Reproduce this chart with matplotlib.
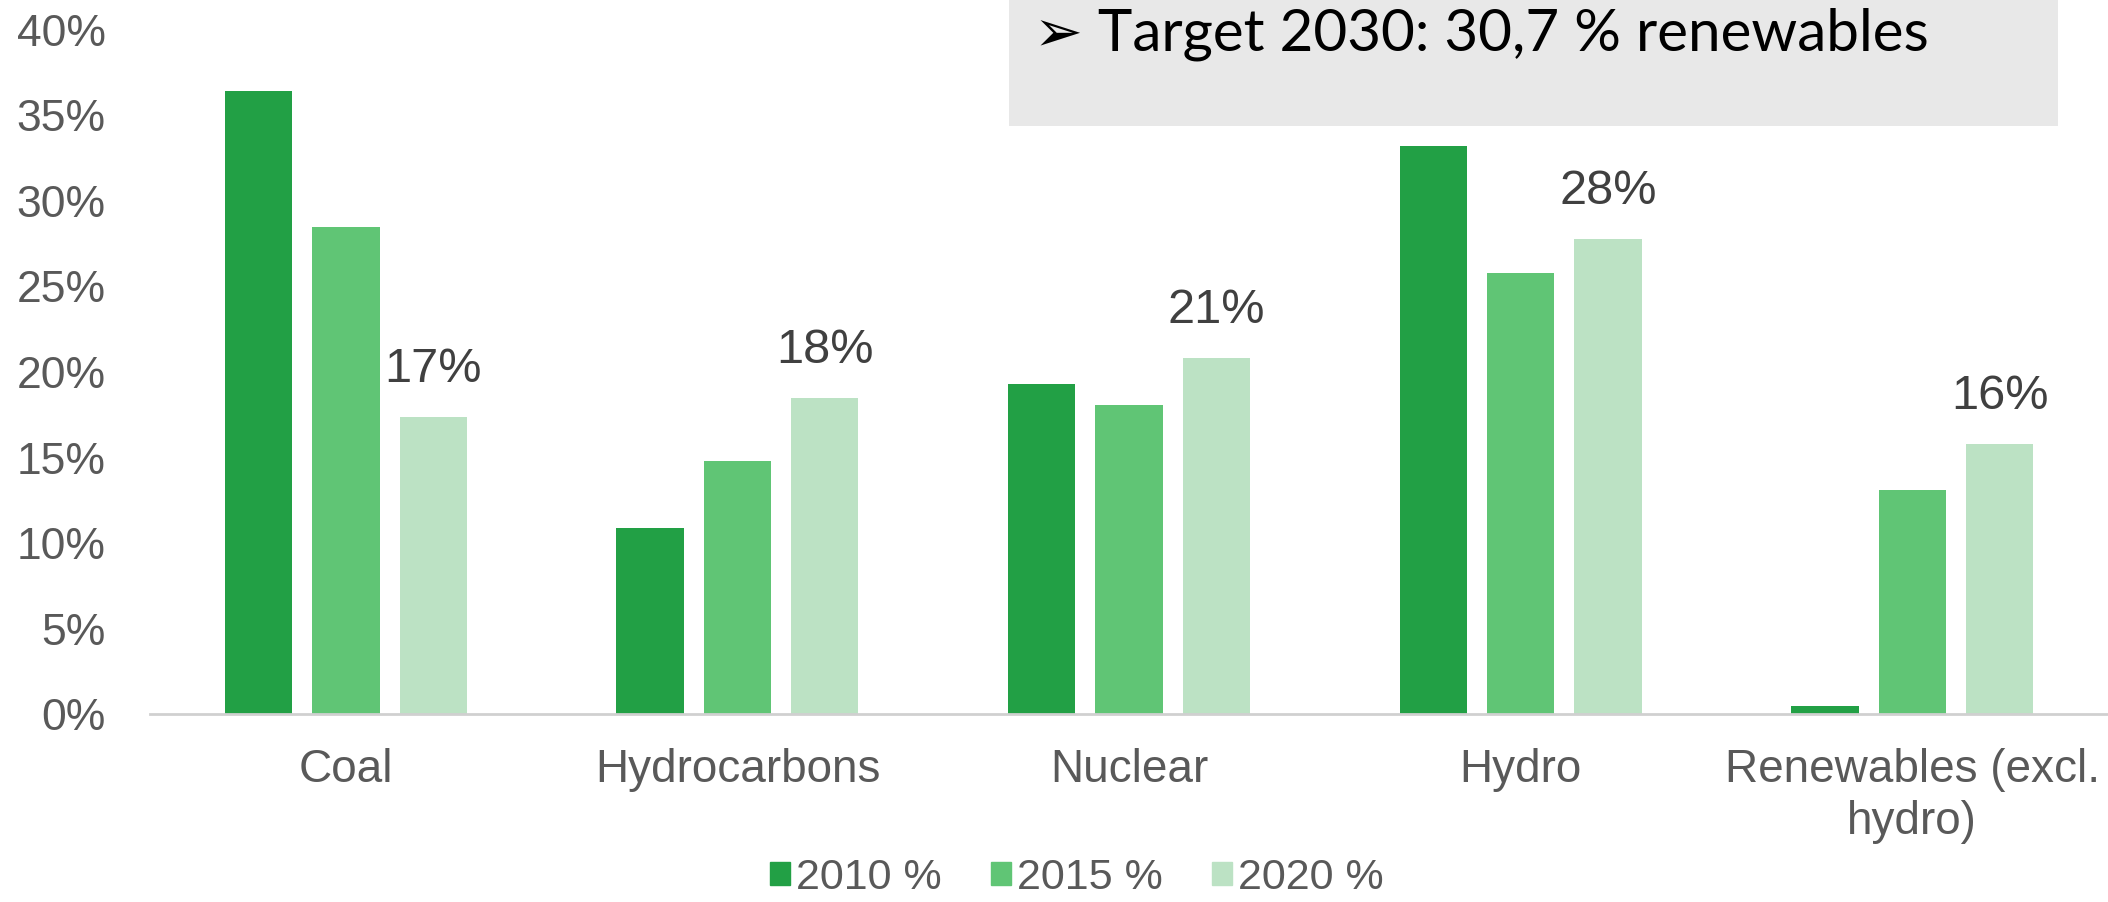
import numpy as np
import matplotlib.pyplot as plt
from matplotlib.patches import Patch, Rectangle

categories = ["Coal", "Hydrocarbons", "Nuclear", "Hydro", "Renewables (excl.\nhydro)"]
years = ["2010 %", "2015 %", "2020 %"]
share_2010 = [0.364, 0.109, 0.193, 0.332, 0.005]
share_2015 = [0.285, 0.148, 0.181, 0.258, 0.131]
share_2020 = [0.174, 0.185, 0.208, 0.278, 0.158]
labels_2020 = ["17%", "18%", "21%", "28%", "16%"]
yticks = [0, 0.05, 0.10, 0.15, 0.20, 0.25, 0.30, 0.35, 0.40]

colors = ["#22a045", "#60c575", "#bce2c4"]
tick_color = "#595959"

plt.rcParams['font.family'] = ['Liberation Sans', 'DejaVu Sans']

fig = plt.figure(figsize=(21.08, 9.02), dpi=100)
ax = fig.add_axes([0.0712, 0.208, 0.9288, 0.759])

x = np.arange(len(categories))
width = 0.172
step = 0.223
series = [share_2010, share_2015, share_2020]
for i, vals in enumerate(series):
    ax.bar(x + (i - 1) * step, vals, width, color=colors[i], zorder=2)

# data labels on the 2020 bars
for xi, v, lab in zip(x, share_2020, labels_2020):
    ax.annotate(lab, (xi + step, v), xytext=(0, 18), textcoords='offset points',
                ha='center', va='bottom', fontsize=35, color='#404040')

ax.set_xlim(-0.5, 4.5)
ax.set_ylim(0, 0.40)
ax.set_yticks(yticks)
ax.set_yticklabels([f"{int(round(t * 100))}%" for t in yticks])
ax.set_xticks(x)
ax.set_xticklabels(categories, linespacing=1.25)
ax.tick_params(axis='y', length=0, pad=32, labelsize=32, labelcolor=tick_color)
ax.tick_params(axis='x', length=0, pad=24, labelsize=33, labelcolor=tick_color)
for s in ['top', 'right', 'left']:
    ax.spines[s].set_visible(False)
ax.spines['bottom'].set_color('#d0d0d0')
ax.spines['bottom'].set_linewidth(2)

handles = [Patch(color=c) for c in colors]
fig.legend(handles, years, loc='lower center', bbox_to_anchor=(0.511, -0.038),
           ncol=3, frameon=False, fontsize=31, handlelength=0.45, handleheight=0.45,
           handletextpad=0.15, columnspacing=1.15, labelcolor=tick_color)

# grey target box at the top
fig.patches.append(Rectangle((0.4787, 0.860), 0.4976, 0.14, transform=fig.transFigure,
                             facecolor='#e8e8e8', edgecolor='none', zorder=0))
fig.text(0.4905, 0.962, "\u27a2 Target 2030: 30,7 % renewables", fontsize=42,
         family=['Lato', 'DejaVu Sans'], va='center', ha='left', color='black')

fig.savefig("out.png", dpi=100)
